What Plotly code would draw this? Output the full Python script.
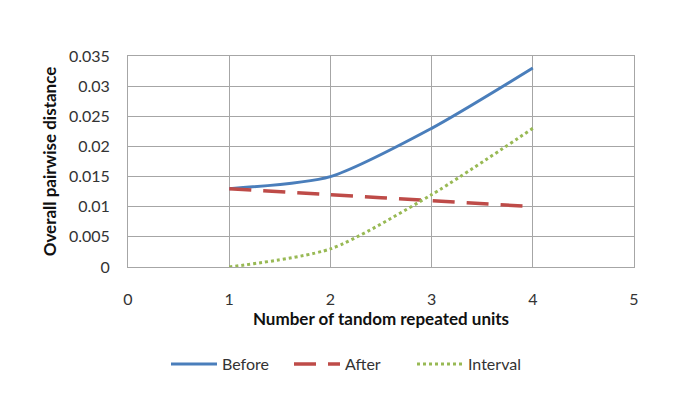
import plotly.graph_objects as go

# Data
units = [1, 2, 3, 4]
before = [0.013, 0.015, 0.023, 0.033]
after = [0.013, 0.012, 0.011, 0.010]
interval = [0.0, 0.003, 0.012, 0.023]

font_family = "Lato, Open Sans, sans-serif"

fig = go.Figure()
fig.add_trace(go.Scatter(x=units, y=before, name="Before", mode="lines",
                         line=dict(color="#4a7ebb", width=3, shape="spline", smoothing=0.7)))
fig.add_trace(go.Scatter(x=units, y=after, name="After", mode="lines",
                         line=dict(color="#be4b48", width=3.5, dash="22px,12px",
                                   shape="spline", smoothing=0.7)))
fig.add_trace(go.Scatter(x=units, y=interval, name="Interval", mode="lines",
                         line=dict(color="#98b954", width=3, dash="dot",
                                   shape="spline", smoothing=0.7)))

# page body adds an 8px offset, so margins are shifted accordingly
fig.update_layout(
    width=685, height=401,
    margin=dict(l=120, r=59, t=48, b=142),
    paper_bgcolor="white", plot_bgcolor="white",
    font=dict(family=font_family, size=16, color="#333"),
    legend=dict(orientation="h", xref="container", yref="container",
                x=0.5, xanchor="center", y=0.112, yanchor="middle",
                font=dict(size=16), itemwidth=46,
                entrywidth=62, entrywidthmode="pixels"),
    showlegend=True,
)
fig.update_xaxes(range=[0, 5], dtick=1, showgrid=True, gridcolor="#a6a6a6", gridwidth=1,
                 zeroline=False, showline=True, linecolor="#a6a6a6", mirror=True,
                 ticks="outside", ticklen=18, tickcolor="rgba(0,0,0,0)", tickfont=dict(size=16),
                 title=dict(text="<b>Number of tandom repeated units</b>",
                            font=dict(size=17, color="#111"), standoff=3))
fig.update_yaxes(range=[0, 0.035], dtick=0.005, showgrid=True, gridcolor="#a6a6a6", gridwidth=1,
                 zeroline=False, showline=True, linecolor="#a6a6a6", mirror=True,
                 ticks="outside", ticklen=14, tickcolor="rgba(0,0,0,0)", tickfont=dict(size=16),
                 tickformat="~g",
                 title=dict(text="<b>Overall pairwise distance</b>",
                            font=dict(size=17, color="#111"), standoff=7))

fig.write_html("out.html")
